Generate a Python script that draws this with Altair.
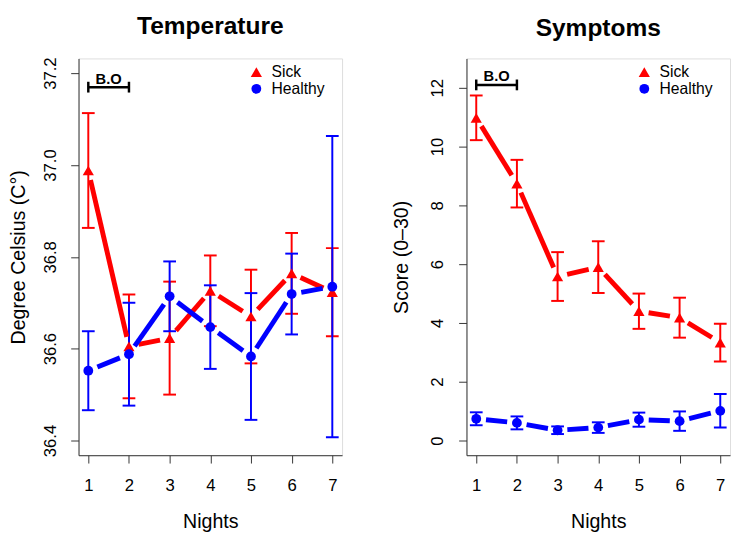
import math
import altair as alt
import pandas as pd

# ---------------- data ----------------
nights = [1, 2, 3, 4, 5, 6, 7]

temp_sick_mean = [36.988, 36.605, 36.623, 36.726, 36.670, 36.764, 36.723]
temp_sick_err = [0.125, 0.113, 0.123, 0.077, 0.102, 0.088, 0.096]
temp_healthy_mean = [36.552, 36.588, 36.714, 36.647, 36.583, 36.719, 36.735]
temp_healthy_err = [0.086, 0.112, 0.076, 0.091, 0.138, 0.088, 0.328]

sym_sick_mean = [10.98, 8.74, 5.58, 5.90, 4.40, 4.18, 3.33]
sym_sick_err = [0.76, 0.81, 0.83, 0.88, 0.60, 0.68, 0.64]
sym_healthy_mean = [0.74, 0.60, 0.35, 0.44, 0.71, 0.66, 1.01]
sym_healthy_err = [0.22, 0.22, 0.13, 0.18, 0.24, 0.33, 0.57]

temp_ticks = [36.4, 36.6, 36.8, 37.0, 37.2]
sym_ticks = [0, 2, 4, 6, 8, 10, 12]

# ---------------- style ----------------
FONT = "Liberation Sans"
RED = "#FF0000"
BLUE = "#0000FF"
W, H = 269, 405
XDOM = [0.76, 7.24]
GAP = 10  # px gap around points (R type="b")


def series_df(means, errs):
    return pd.DataFrame({
        "night": nights,
        "mean": means,
        "lo": [m - e for m, e in zip(means, errs)],
        "hi": [m + e for m, e in zip(means, errs)],
    })


def segments_df(means, ydom):
    kx = W / (XDOM[1] - XDOM[0])
    ky = H / (ydom[1] - ydom[0])
    rows = []
    for i in range(len(nights) - 1):
        x1, y1, x2, y2 = nights[i], means[i], nights[i + 1], means[i + 1]
        L = math.hypot((x2 - x1) * kx, (y2 - y1) * ky)
        if L <= 2 * GAP:
            continue
        f = GAP / L
        rows.append({
            "xa": x1 + (x2 - x1) * f, "ya": y1 + (y2 - y1) * f,
            "xb": x2 - (x2 - x1) * f, "yb": y2 - (y2 - y1) * f,
        })
    return pd.DataFrame(rows)


def panel(title, ytitle, ydom, yticks, yfmt, sick, healthy, bo_y, title_x):
    xscale = alt.Scale(domain=XDOM, nice=False, zero=False)
    yscale = alt.Scale(domain=ydom, nice=False, zero=False)
    xaxis = alt.Axis(values=nights, title="Nights", grid=False, tickSize=8,
                     labelPadding=15, labelFontSize=17, labelFont=FONT,
                     labelColor="#000", titleFontSize=20, titleFont=FONT,
                     titleFontWeight="normal", titleColor="#000",
                     titleY=74, titleBaseline="alphabetic",
                     domainColor="#333", tickColor="#333", labelFlush=False)
    yaxis = alt.Axis(values=yticks, format=yfmt, title=ytitle, grid=False,
                     tickSize=8, labelPadding=16, labelFontSize=17, labelFont=FONT,
                     labelColor="#000", labelAngle=270, labelAlign="center",
                     labelBaseline="alphabetic", titleFontSize=20, titleFont=FONT,
                     titleFontWeight="normal", titleColor="#000", titleAngle=270,
                     titleX=title_x, titleY=H / 2, titleAlign="center",
                     titleBaseline="middle", domainColor="#333", tickColor="#333",
                     labelFlush=False, labelOverlap=False)

    def X(f):
        return alt.X(f, type="quantitative", scale=xscale, axis=xaxis, title="Nights")

    def Y(f):
        return alt.Y(f, type="quantitative", scale=yscale, axis=yaxis, title=ytitle)

    layers = []
    specs = [(sick, RED, "triangle-up", 130), (healthy, BLUE, "circle", 100)]
    # error bars
    for (m, e), col, _, _ in specs:
        df = series_df(m, e)
        base = alt.Chart(df)
        layers.append(base.mark_rule(color=col, strokeWidth=2).encode(
            x=X("night"), y=Y("lo"), y2="hi"))
        layers.append(base.mark_tick(color=col, orient="horizontal", size=13,
                                     thickness=2, opacity=1).encode(x=X("night"), y=Y("lo")))
        layers.append(base.mark_tick(color=col, orient="horizontal", size=13,
                                     thickness=2, opacity=1).encode(x=X("night"), y=Y("hi")))
    # lines + points
    for (m, e), col, shape, size in specs:
        seg = segments_df(m, ydom)
        layers.append(alt.Chart(seg).mark_rule(color=col, strokeWidth=5, strokeCap="butt").encode(
            x=X("xa"), y=Y("ya"), x2="xb", y2="yb"))
        df = series_df(m, e)
        layers.append(alt.Chart(df).mark_point(shape=shape, filled=True, size=size,
                                               color=col, opacity=1).encode(
            x=X("night"), y=Y("mean")))

    one = alt.Data(values=[{}])
    # B.O bracket
    layers.append(alt.Chart(one).mark_rule(color="#000", strokeWidth=2.5).encode(
        x=alt.datum(1), x2=alt.datum(2), y=alt.value(bo_y)))
    for xv in (1, 2):
        layers.append(alt.Chart(one).mark_rule(color="#000", strokeWidth=2.5).encode(
            x=alt.datum(xv), y=alt.value(bo_y - 5.5), y2=alt.value(bo_y + 5.5)))
    layers.append(alt.Chart(one).mark_text(text="B.O", font=FONT, fontSize=15,
                                           fontWeight="bold", color="#000",
                                           baseline="alphabetic").encode(
        x=alt.datum(1.5), y=alt.value(bo_y - 3.5)))
    # legend
    layers.append(alt.Chart(one).mark_point(shape="triangle-up", filled=True, size=130,
                                            color=RED, opacity=1).encode(
        x=alt.value(181.5), y=alt.value(14)))
    layers.append(alt.Chart(one).mark_point(shape="circle", filled=True, size=100,
                                            color=BLUE, opacity=1).encode(
        x=alt.value(181.5), y=alt.value(31)))
    for txt, yy in (("Sick", 14), ("Healthy", 31)):
        layers.append(alt.Chart(one).mark_text(text=txt, font=FONT, fontSize=16,
                                               color="#000", align="left",
                                               baseline="middle").encode(
            x=alt.value(197), y=alt.value(yy)))

    return alt.layer(*layers).properties(
        width=W, height=H,
        title=alt.TitleParams(title, fontSize=25, font=FONT, fontWeight="bold",
                              color="#000", anchor="middle", offset=18),
    )


left = panel("Temperature", "Degree Celsius (C°)", [36.368, 37.232], temp_ticks, ".1f",
             (temp_sick_mean, temp_sick_err), (temp_healthy_mean, temp_healthy_err),
             29.3, -61)
right = panel("Symptoms", "Score (0–30)", [-0.5, 13.0], sym_ticks, "d",
              (sym_sick_mean, sym_sick_err), (sym_healthy_mean, sym_healthy_err),
              27, -66)

chart = alt.hconcat(left, right, spacing=49).properties(
    padding={"left": 0, "top": 0, "right": 0, "bottom": 0}
).configure_view(stroke=None).configure(background="white")

chart.save("out.html", embed_options={"renderer": "svg", "actions": False})
